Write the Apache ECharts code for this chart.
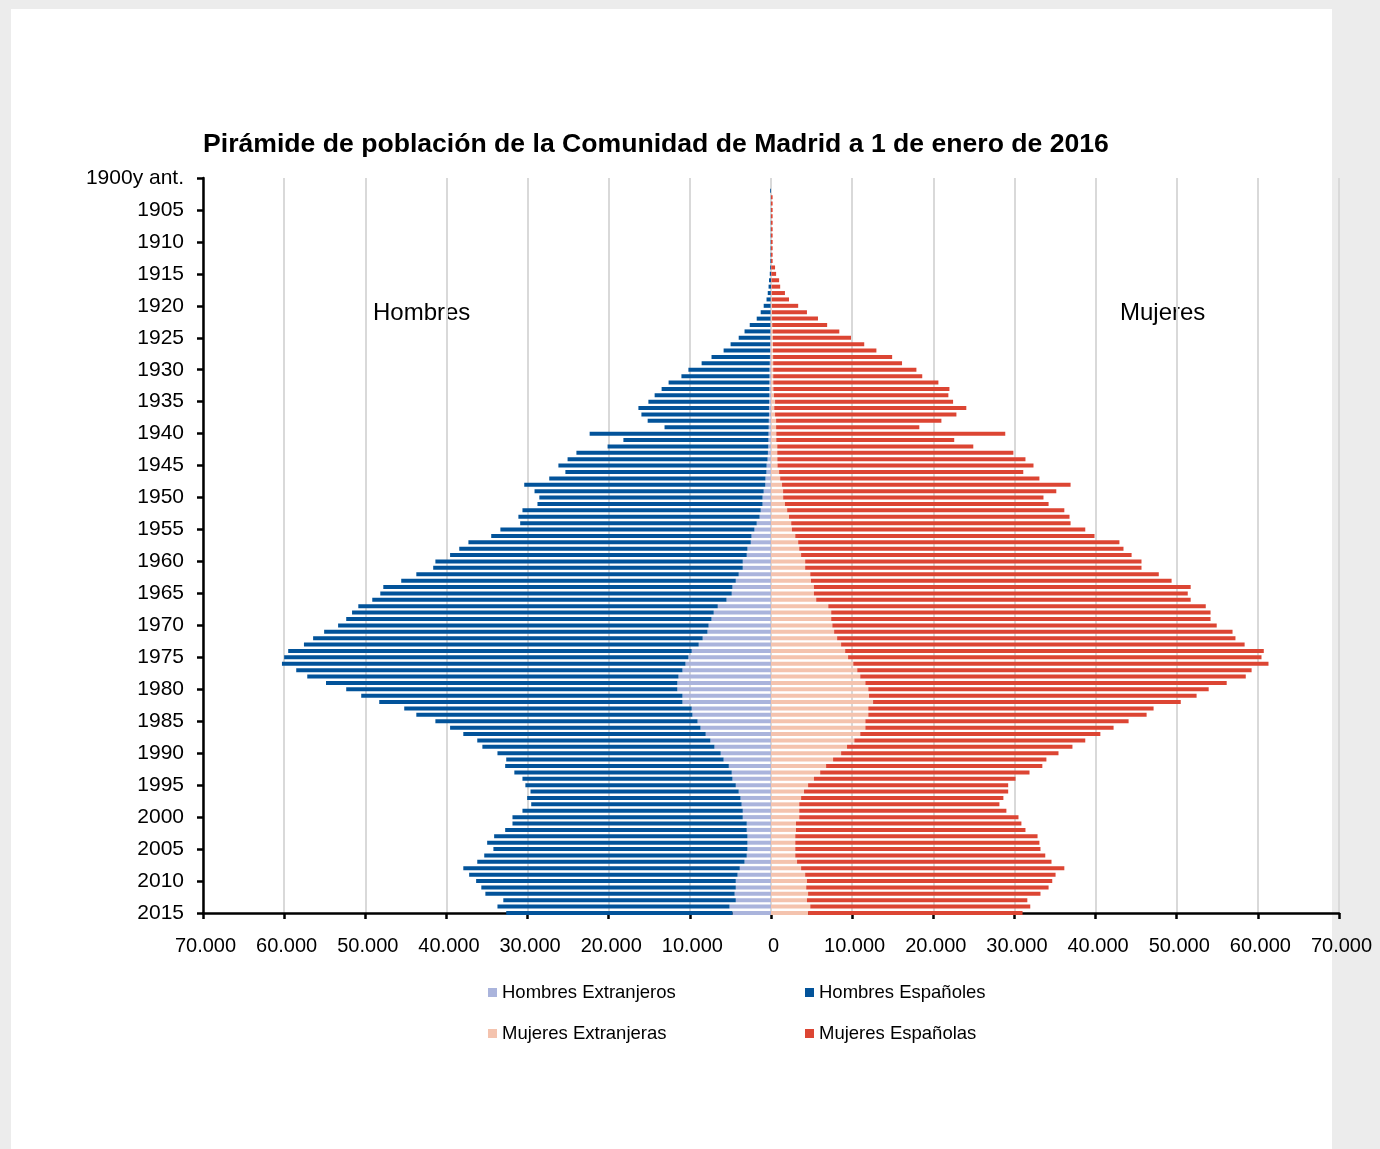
<!DOCTYPE html>
<html>
<head>
<meta charset="utf-8">
<script src="https://cdn.jsdelivr.net/npm/echarts@6/dist/echarts.min.js"></script>
<style>
  body { margin: 0; background: #ececec; }
  #panel { position: absolute; left: 11px; top: 9px; width: 1321px; height: 1140px; background: #fff; }
  #main { position: absolute; left: 0; top: 0; width: 1380px; height: 1149px; }
</style>
</head>
<body>
<div id="panel"></div>
<div id="main"></div>
<script>
// Piramide de poblacion - Comunidad de Madrid 1/1/2016
var FONT = 'Liberation Sans, Arial, sans-serif';

var categorias = [
    '1900y ant.', '1901', '1902', '1903', '1904', '1905', '1906', '1907', '1908', '1909',
    '1910', '1911', '1912', '1913', '1914', '1915', '1916', '1917', '1918', '1919',
    '1920', '1921', '1922', '1923', '1924', '1925', '1926', '1927', '1928', '1929',
    '1930', '1931', '1932', '1933', '1934', '1935', '1936', '1937', '1938', '1939',
    '1940', '1941', '1942', '1943', '1944', '1945', '1946', '1947', '1948', '1949',
    '1950', '1951', '1952', '1953', '1954', '1955', '1956', '1957', '1958', '1959',
    '1960', '1961', '1962', '1963', '1964', '1965', '1966', '1967', '1968', '1969',
    '1970', '1971', '1972', '1973', '1974', '1975', '1976', '1977', '1978', '1979',
    '1980', '1981', '1982', '1983', '1984', '1985', '1986', '1987', '1988', '1989',
    '1990', '1991', '1992', '1993', '1994', '1995', '1996', '1997', '1998', '1999',
    '2000', '2001', '2002', '2003', '2004', '2005', '2006', '2007', '2008', '2009',
    '2010', '2011', '2012', '2013', '2014', '2015'
];

var hombresExtranjeros = [
    0, 0, 0, 0, 0, 0, 0, 0, 0, 0,
    0, 0, 0, 0, 0, 0, 0, 0, 30, 40,
    50, 60, 70, 80, 90, 100, 110, 120, 130, 150,
    180, 180, 190, 200, 200, 220, 250, 250, 270, 280,
    300, 310, 330, 380, 420, 540, 560, 680, 700, 900,
    1040, 1040, 1270, 1400, 1760, 2040, 2400, 2490, 2900, 2990,
    3480, 3480, 3980, 4340, 4750, 4840, 5480, 6560, 7060, 7330,
    7690, 7830, 8420, 8910, 9770, 10180, 10540, 10910, 11400, 11540,
    11540, 10910, 10910, 9770, 9680, 9050, 8690, 8050, 7470, 6970,
    6200, 5840, 5200, 4840, 4750, 4340, 3980, 3760, 3620, 3480,
    3480, 2990, 2990, 2900, 2900, 2900, 2990, 3260, 3850, 4120,
    4340, 4340, 4480, 4340, 5110, 4750
];

var hombresEspanoles = [
    0, 0, 100, 20, 20, 20, 20, 30, 30, 40,
    40, 50, 60, 70, 100, 150, 250, 300, 370, 510,
    850, 1210, 1690, 2540, 3170, 3880, 4870, 5720, 7200, 8400,
    10000, 10860, 12430, 13280, 14140, 14890, 16090, 15720, 14930, 12840,
    22050, 17880, 19810, 23600, 24650, 25660, 24780, 26650, 29710, 28240,
    27510, 27740, 29360, 29730, 29150, 31310, 32080, 34800, 35520, 36560,
    37880, 38150, 39730, 41230, 43030, 43310, 43660, 44300, 44570, 45020,
    45660, 47240, 48010, 48650, 49730, 49820, 49730, 47600, 45750, 43300,
    40810, 39590, 37370, 35430, 34030, 32310, 30860, 29870, 28730, 28600,
    27510, 26790, 27560, 26790, 25880, 25930, 25660, 26290, 25930, 27150,
    28380, 28870, 29770, 31220, 32080, 31310, 32350, 32940, 34070, 33080,
    32000, 31360, 30720, 28650, 28600, 27880
];

var mujeresExtranjeras = [
    0, 0, 0, 0, 0, 0, 0, 0, 0, 0,
    0, 0, 0, 0, 30, 40, 60, 70, 90, 100,
    110, 120, 130, 150, 200, 220, 240, 250, 260, 270,
    270, 270, 280, 290, 360, 500, 400, 500, 630, 630,
    650, 650, 770, 770, 780, 800, 1000, 1130, 1360, 1490,
    1500, 1720, 1990, 2220, 2490, 2580, 2990, 3350, 3480, 3710,
    4210, 4210, 4840, 4930, 5290, 5290, 5570, 7060, 7420, 7420,
    7560, 7780, 8150, 8640, 9140, 9500, 10140, 10630, 11000, 11630,
    11990, 12080, 12580, 11990, 11990, 11630, 11630, 11000, 10270, 9370,
    8640, 7650, 6790, 6060, 5290, 4570, 4070, 3710, 3480, 3480,
    3480, 3080, 3080, 2990, 2990, 2990, 2990, 3210, 3710, 4210,
    4430, 4340, 4570, 4430, 4840, 4570
];

var mujeresEspanolas = [
    0, 0, 0, 200, 200, 200, 200, 200, 200, 200,
    200, 200, 200, 200, 470, 590, 940, 1060, 1630, 2120,
    3240, 4310, 5660, 6770, 8220, 9640, 11250, 12740, 14670, 15880,
    17650, 18370, 20350, 21700, 21500, 21940, 23670, 22350, 20370, 17650,
    28220, 21930, 24160, 29100, 30580, 31550, 30090, 31950, 35560, 33670,
    32080, 32490, 34160, 34570, 34430, 36150, 36880, 39590, 39960, 40730,
    41450, 41450, 42950, 44440, 46430, 46070, 46150, 46520, 46750, 46750,
    47370, 49100, 49090, 49730, 51590, 50950, 51170, 48600, 47510, 44530,
    41950, 40370, 37920, 35160, 34300, 32440, 30590, 29590, 28460, 27780,
    26790, 26290, 26650, 25800, 24850, 24660, 25160, 24930, 24670, 25530,
    27020, 27780, 28280, 29860, 30090, 30220, 30810, 31360, 32440, 30860,
    30230, 29870, 28640, 27160, 27110, 26430
];

function miles(v) {
    return String(Math.abs(v)).replace(/\B(?=(\d{3})+(?!\d))/g, '.');
}

var myChart = echarts.init(document.getElementById('main'));

var legendBase = {
    icon: 'rect',
    itemWidth: 9,
    itemHeight: 9,
    padding: 0,
    selectedMode: false,
    textStyle: {fontSize: 18.5, color: '#000', fontFamily: FONT}
};

myChart.setOption({
    animation: false,
    backgroundColor: 'transparent',
    title: {
        text: 'Pirámide de población de la Comunidad de Madrid a 1 de enero de 2016',
        left: 203,
        top: 131,
        padding: 0,
        textStyle: {fontSize: 26.6, fontWeight: 'bold', color: '#000', fontFamily: FONT}
    },
    legend: [
        Object.assign({data: ['Hombres Extranjeros'], left: 488, top: 983}, legendBase),
        Object.assign({data: ['Hombres Españoles'], left: 805, top: 983}, legendBase),
        Object.assign({data: ['Mujeres Extranjeras'], left: 488, top: 1024}, legendBase),
        Object.assign({data: ['Mujeres Españolas'], left: 805, top: 1024}, legendBase)
    ],
    grid: {left: 203, right: 41, top: 178, bottom: 236, containLabel: false},
    xAxis: {
        type: 'value',
        min: -70000,
        max: 70000,
        interval: 10000,
        axisLine: {show: true, lineStyle: {color: '#000', width: 2.5}},
        axisTick: {show: true, length: 6, lineStyle: {color: '#000', width: 2.5}},
        axisLabel: {
            formatter: miles,
            margin: 23,
            fontSize: 20,
            color: '#000',
            fontFamily: FONT,
            padding: [0, 0, 0, 5]
        },
        splitLine: {show: true, lineStyle: {color: '#d9d9d9', width: 2}}
    },
    yAxis: {
        type: 'category',
        inverse: true,
        boundaryGap: false,
        data: categorias,
        axisLine: {show: true, onZero: false, lineStyle: {color: '#000', width: 2.5}},
        axisTick: {show: true, interval: 4, length: 6, lineStyle: {color: '#000', width: 2.5}},
        axisLabel: {
            interval: 4,
            margin: 19,
            fontSize: 21,
            color: '#000',
            fontFamily: FONT,
            padding: [9, 0, 0, 0]
        },
        splitLine: {show: false}
    },
    graphic: [
        {type: 'text', left: 373, top: 301, style: {text: 'Hombres', fontSize: 24, fill: '#000', fontFamily: FONT}},
        {type: 'text', left: 1120, top: 301, style: {text: 'Mujeres', fontSize: 24, fill: '#000', fontFamily: FONT}}
    ],
    series: [
        {
            name: 'Hombres Extranjeros',
            type: 'bar',
            stack: 'hombres',
            barWidth: 4,
            barGap: '-100%',
            itemStyle: {color: '#aab4dc'},
            data: hombresExtranjeros.map(function (v) { return -v; })
        },
        {
            name: 'Hombres Españoles',
            type: 'bar',
            stack: 'hombres',
            barWidth: 4,
            barGap: '-100%',
            itemStyle: {color: '#02539a'},
            data: hombresEspanoles.map(function (v) { return -v; })
        },
        {
            name: 'Mujeres Extranjeras',
            type: 'bar',
            stack: 'mujeres',
            barWidth: 4,
            barGap: '-100%',
            itemStyle: {color: '#f4c3ae'},
            data: mujeresExtranjeras
        },
        {
            name: 'Mujeres Españolas',
            type: 'bar',
            stack: 'mujeres',
            barWidth: 4,
            barGap: '-100%',
            itemStyle: {color: '#dc4533'},
            data: mujeresEspanolas
        }
    ]
});
</script>
</body>
</html>
